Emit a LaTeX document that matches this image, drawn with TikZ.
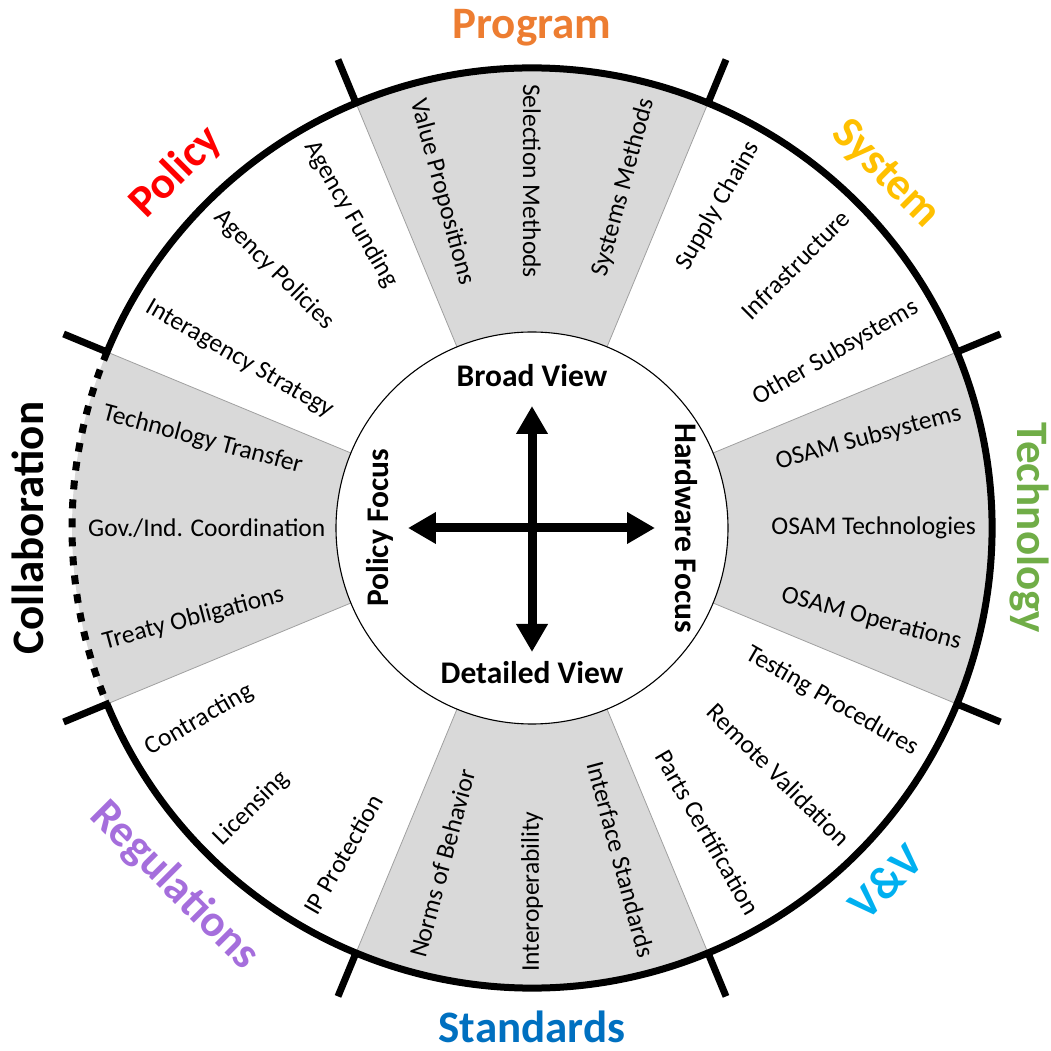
\documentclass[tikz,border=0pt]{standalone}
\usepackage{fontspec}
\setmainfont{Carlito}
\usetikzlibrary{arrows.meta}
\definecolor{cprog}{HTML}{ED7D31}
\definecolor{csys}{HTML}{FFC000}
\definecolor{ctech}{HTML}{70AD47}
\definecolor{cvv}{HTML}{00B0F0}
\definecolor{cstd}{HTML}{0070C0}
\definecolor{creg}{RGB}{165,110,220}
\definecolor{cpol}{HTML}{FF0000}
\definecolor{wedgefill}{HTML}{D9D9D9}
\definecolor{wedgeline}{HTML}{A0A0A0}
\begin{document}
\begin{tikzpicture}[x=1pt,y=1pt,
  item/.style={inner sep=0pt, font=\fontsize{25.5}{30}\selectfont},
  outitem/.style={item, anchor=east},
  initem/.style={item, anchor=west},
  cat/.style={inner sep=0pt, font=\fontsize{45}{54}\selectfont\bfseries},
  axislabel/.style={inner sep=0pt, font=\fontsize{31.5}{38}\selectfont\bfseries},
  rim/.style={line width=7pt},
  rimtick/.style={line width=7pt},
  axisarrow/.style={line width=9pt, {Triangle[length=28pt,width=30pt]}-{Triangle[length=28pt,width=30pt]}}
]
\useasboundingbox (-532,-523) rectangle (518,528);

% shaded sectors
\foreach \c in {0,90,180,270}
  \fill[wedgefill] (\c-22.5:196) arc[start angle=\c-22.5, end angle=\c+22.5, radius=196]
    -- (\c+22.5:460) arc[start angle=\c+22.5, end angle=\c-22.5, radius=460] -- cycle;
\foreach \a in {22.5,67.5,112.5,157.5,202.5,247.5,292.5,337.5}
  \draw[wedgeline, line width=0.8pt] (\a:196) -- (\a:460);

% hub
\node[circle, draw, fill=white, minimum size=392pt, inner sep=0pt, line width=1.1pt] (hub) at (0,0) {};

% outer rim: solid, dotted over the collaboration sector
\draw[rim] (202.5:460) arc[start angle=202.5, end angle=517.5, radius=460];
\draw[rim, dash pattern=on 9pt off 10pt] (157.5:460) arc[start angle=157.5, end angle=202.5, radius=460];
\foreach \a in {22.5,67.5,112.5,157.5,202.5,247.5,292.5,337.5}
  \draw[rimtick] (\a:457) -- (\a:507);

% category labels
\node[cat, text=cprog] (program) at (90:500) {Program};
\node[cat, text=csys, rotate=-45] (system) at (45:500) {System};
\node[cat, text=ctech, rotate=-90] (technology) at (0:497) {Technology};
\node[cat, text=cvv, rotate=45] (vv) at (-45:500) {V\&V};
\node[cat, text=cstd] (standards) at (-90:499) {Standards};
\node[cat, text=creg, rotate=-45] (regulations) at (-135:506) {Regulations};
\node[cat, rotate=90] (collaboration) at (180:504) {Collaboration};
\node[cat, text=cpol, rotate=45] (policy) at (135:503) {Policy};

% Program
\node[initem, rotate=-75] (valueprop) at (105:444) {Value Propositions};
\node[initem, rotate=-90] (selection) at (90:444) {Selection Methods};
\node[outitem, rotate=75] (sysmethods) at (75:444) {Systems Methods};
% System
\node[outitem, rotate=60] (supply) at (60:444) {Supply Chains};
\node[outitem, rotate=45] (infra) at (45:444) {Infrastructure};
\node[outitem, rotate=30] (othersub) at (30:444) {Other Subsystems};
% Technology
\node[outitem, rotate=15] (osamsub) at (15:444) {OSAM Subsystems};
\node[outitem, rotate=0] (osamtech) at (0:444) {OSAM Technologies};
\node[outitem, rotate=-15] (osamops) at (-15:444) {OSAM Operations};
% V&V
\node[outitem, rotate=-30] (testing) at (-30:444) {Testing Procedures};
\node[outitem, rotate=-45] (remote) at (-45:444) {Remote Validation};
\node[outitem, rotate=-60] (parts) at (-60:444) {Parts Certification};
% Standards
\node[outitem, rotate=-75] (interface) at (-75:444) {Interface Standards};
\node[initem, rotate=90] (interop) at (-90:444) {Interoperability};
\node[initem, rotate=75] (norms) at (-105:444) {Norms of Behavior};
% Regulations
\node[initem, rotate=60] (ipprot) at (-120:444) {IP Protection};
\node[initem, rotate=45] (licensing) at (-135:444) {Licensing};
\node[initem, rotate=30] (contracting) at (-150:444) {Contracting};
% Collaboration
\node[initem, rotate=15] (treaty) at (195:444) {Treaty Obligations};
\node[initem, rotate=0] (govind) at (180:444) {Gov./Ind. Coordination};
\node[initem, rotate=-15] (techtransfer) at (165:444) {Technology Transfer};
% Policy
\node[initem, rotate=-30] (interagency) at (150:444) {Interagency Strategy};
\node[initem, rotate=-45] (agpolicies) at (135:444) {Agency Policies};
\node[initem, rotate=-60] (agfunding) at (120:444) {Agency Funding};

% hub axes
\coordinate (axl) at (-124,0);
\coordinate (axr) at (123,0);
\coordinate (axt) at (0,122);
\coordinate (axb) at (0,-124);
\draw[axisarrow] (axl) -- (axr);
\draw[axisarrow] (axb) -- (axt);
\node[axislabel] (broad) at (0,152) {Broad View};
\node[axislabel] (detailed) at (0,-145) {Detailed View};
\node[axislabel, rotate=90] (polfocus) at (-152,0) {Policy Focus};
\node[axislabel, rotate=-90] (hwfocus) at (154,0) {Hardware Focus};
\end{tikzpicture}
\end{document}
